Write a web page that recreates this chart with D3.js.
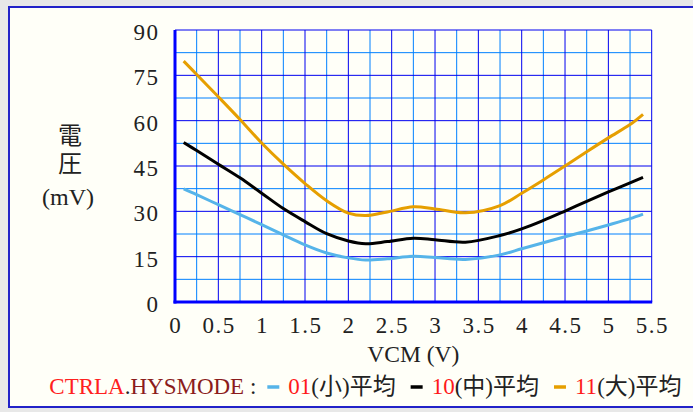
<!DOCTYPE html>
<html>
<head>
<meta charset="utf-8">
<script src="https://cdn.jsdelivr.net/npm/d3@7"></script>
<style>
  html, body { margin: 0; padding: 0; background: #e8e8e8; }
  svg { display: block; }
</style>
</head>
<body>
<svg id="chart" width="693" height="412"></svg>
<script>
// ---- data ----
const vcm     = [0.1, 0.25, 0.5, 0.75, 1.0, 1.25, 1.5, 1.75, 2.0, 2.2, 2.45, 2.75, 3.0, 3.35, 3.75, 4.0, 4.25, 4.5, 4.75, 5.0, 5.25, 5.4];
const small01 = [37.4, 35.5, 32.2, 28.9, 25.6, 22.2, 18.9, 16.2, 14.6, 13.9, 14.3, 15.1, 14.7, 14.1, 15.6, 17.6, 19.6, 21.6, 23.5, 25.5, 27.6, 29.1];
const mid10   = [52.8, 50.1, 45.6, 41.1, 36.0, 30.9, 26.6, 22.6, 20.2, 19.3, 20.0, 21.1, 20.6, 19.8, 22.0, 24.2, 27.0, 30.1, 33.3, 36.4, 39.4, 41.2];
const large11 = [79.7, 75.3, 67.9, 60.4, 52.6, 45.6, 39.2, 33.5, 29.4, 28.6, 29.8, 31.5, 30.8, 29.5, 31.9, 36.0, 40.4, 45.0, 49.7, 54.3, 58.7, 62.1];
const xTicks = [0, 0.5, 1, 1.5, 2, 2.5, 3, 3.5, 4, 4.5, 5, 5.5];
const xTickLabels = ["0", "0.5", "1", "1.5", "2", "2.5", "3", "3.5", "4", "4.5", "5", "5.5"];
const yTicks = [0, 15, 30, 45, 60, 75, 90];
const xMinor = [0.25, 0.75, 1.25, 1.75, 2.25, 2.75, 3.25, 3.75, 4.25, 4.75, 5.25];
const yMinor = [7.5, 22.5, 37.5, 52.5, 67.5, 82.5];
const seriesNames = ["01", "10", "11"];
const seriesSizes = ["(小)平均", "(中)平均", "(大)平均"];
const seriesColors = ["#56B4E9", "#000000", "#E69F00"];
const yTitleMain = "電圧";
const yTitleUnit = "(mV)";
const xTitle = "VCM (V)";

// ---- layout ----
const svg = d3.select("#chart");
const serif = "'Liberation Serif', 'Noto Sans CJK JP', serif";
const cjk = "'Noto Sans CJK JP', sans-serif";

svg.append("rect").attr("x", 9).attr("y", 7).attr("width", 700).attr("height", 400)
  .attr("fill", "#fffff8").attr("stroke", "#2222c8").attr("stroke-width", 2);

const x = d3.scaleLinear().domain([0, 5.5]).range([175, 651.7]);
const y = d3.scaleLinear().domain([0, 90]).range([302, 30]);

const grid = svg.append("g");
grid.selectAll("line.xm").data(xMinor).enter().append("line")
  .attr("x1", d => x(d)).attr("x2", d => x(d)).attr("y1", y(0)).attr("y2", y(90))
  .attr("stroke", "#0080ff").attr("stroke-width", 1);
grid.selectAll("line.ym").data(yMinor).enter().append("line")
  .attr("y1", d => y(d)).attr("y2", d => y(d)).attr("x1", x(0)).attr("x2", x(5.5))
  .attr("stroke", "#0080ff").attr("stroke-width", 1);
grid.selectAll("line.xM").data(xTicks).enter().append("line")
  .attr("x1", d => x(d)).attr("x2", d => x(d)).attr("y1", y(0)).attr("y2", y(90))
  .attr("stroke", "#0000f0").attr("stroke-width", 1);
grid.selectAll("line.yM").data(yTicks).enter().append("line")
  .attr("y1", d => y(d)).attr("y2", d => y(d)).attr("x1", x(0)).attr("x2", x(5.5))
  .attr("stroke", "#0000f0").attr("stroke-width", 1);

// axes (thick)
svg.append("line").attr("x1", x(0)).attr("x2", x(0)).attr("y1", y(90)).attr("y2", y(0) + 1.5)
  .attr("stroke", "#0000ff").attr("stroke-width", 3);
svg.append("line").attr("x1", x(0) - 1.5).attr("x2", x(5.5) + 0.5).attr("y1", y(0)).attr("y2", y(0))
  .attr("stroke", "#0000ff").attr("stroke-width", 3);

// tick labels
svg.append("g").selectAll("text").data(xTicks).enter().append("text")
  .attr("x", d => x(d) + 0.75).attr("y", 333)
  .attr("text-anchor", "middle").style("font-family", serif).attr("font-size", 23)
  .attr("letter-spacing", 1.5).attr("fill", "#222")
  .text((d, i) => xTickLabels[i]);
svg.append("g").selectAll("text").data(yTicks).enter().append("text")
  .attr("x", 159.5).attr("y", d => y(d) + 10)
  .attr("text-anchor", "end").style("font-family", serif).attr("font-size", 23)
  .attr("letter-spacing", 1.5).attr("fill", "#222")
  .text(d => d);

// axis titles
svg.append("text").attr("x", 70).attr("y", 122.5)
  .style("writing-mode", "vertical-rl").style("font-family", cjk).attr("font-size", 24)
  .attr("letter-spacing", 4.5).attr("fill", "#222")
  .text(yTitleMain);
svg.append("text").attr("x", 68).attr("y", 205).attr("text-anchor", "middle")
  .style("font-family", serif).attr("font-size", 24).attr("fill", "#222")
  .text(yTitleUnit);

svg.append("text").attr("x", (x(0) + x(5.5)) / 2).attr("y", 361.5).attr("text-anchor", "middle")
  .style("font-family", serif).attr("font-size", 23.5).attr("fill", "#222")
  .text(xTitle);

// curves
const line = d3.line().x(d => x(d[0])).y(d => y(d[1])).curve(d3.curveCatmullRom.alpha(0.5));
[small01, mid10, large11].forEach((vals, i) => {
  svg.append("path").datum(vcm.map((v, j) => [v, vals[j]]))
    .attr("d", line).attr("fill", "none")
    .attr("stroke", seriesColors[i]).attr("stroke-width", 3)
    .attr("stroke-linejoin", "round");
});

// legend
const lg = svg.append("g");
let cx = 49.3;
const base = 394;
function piece(txt, color) {
  const t = lg.append("text").attr("x", cx).attr("y", base)
    .style("font-family", serif).attr("font-size", 23).attr("fill", color)
    .style("white-space", "pre").text(txt);
  cx += t.node().getComputedTextLength();
}
function dash(color) {
  cx += 11;
  lg.append("line").attr("x1", cx).attr("x2", cx + 12).attr("y1", base - 7).attr("y2", base - 7)
    .attr("stroke", color).attr("stroke-width", 3.5);
  cx += 12 + 9;
}
piece("CTRLA", "#ff2020");
piece(".", "#222");
piece("HYSMODE", "#8b1c1c");
piece(" :", "#222");
seriesNames.forEach((n, i) => {
  if (i > 0) cx += 4;
  dash(seriesColors[i]);
  piece(n, "#ff1a1a");
  piece(seriesSizes[i], "#222");
});
</script>
</body>
</html>
